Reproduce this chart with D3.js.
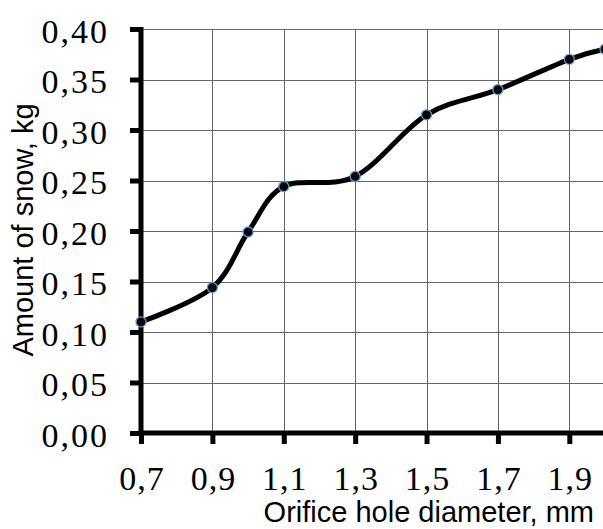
<!DOCTYPE html>
<html>
<head>
<meta charset="utf-8">
<script src="https://cdn.jsdelivr.net/npm/d3@7"></script>
<style>
  html, body { margin: 0; padding: 0; background: #fff; }
  svg { display: block; }
  .num { font-family: "Liberation Serif", "Times New Roman", serif; font-size: 34px; }
  .ttl { font-family: Arial, "Liberation Sans", sans-serif; font-size: 29px; }
</style>
</head>
<body>
<svg id="chart" width="603" height="529"></svg>
<script>
// data
var diameters = [0.7, 0.9, 1.0, 1.1, 1.3, 1.5, 1.7, 1.9, 2.0];
var snowKg = [0.110, 0.144, 0.199, 0.244, 0.254, 0.315, 0.340, 0.370, 0.380];
var xTicks = [0.7, 0.9, 1.1, 1.3, 1.5, 1.7, 1.9];
var yTicks = [0, 0.05, 0.10, 0.15, 0.20, 0.25, 0.30, 0.35, 0.40];

var svg = d3.select("#chart");

var x = d3.scaleLinear().domain([0.7, 2.0]).range([141, 605]);
var y = d3.scaleLinear().domain([0, 0.4]).range([433, 29]);

var fmt = function(d, n) { return d.toFixed(n).replace(".", ","); };

// grid
svg.append("g")
  .selectAll("line")
  .data(yTicks.slice(1))
  .join("line")
  .attr("x1", 141).attr("x2", 603)
  .attr("y1", d => Math.round(y(d)) + 0.5).attr("y2", d => Math.round(y(d)) + 0.5)
  .attr("stroke", "#666").attr("stroke-width", 1);

svg.append("g")
  .selectAll("line")
  .data(xTicks.slice(1))
  .join("line")
  .attr("x1", d => Math.round(x(d)) + 0.5).attr("x2", d => Math.round(x(d)) + 0.5)
  .attr("y1", 29).attr("y2", 433)
  .attr("stroke", "#666").attr("stroke-width", 1);

// axes
var yAxis = d3.axisLeft(y).tickValues(yTicks).tickSize(11).tickFormat(d => fmt(d, 2));
var gy = svg.append("g").attr("transform", "translate(141,0)").call(yAxis)
  .attr("font-family", null).attr("font-size", null);
gy.select(".domain").remove();
gy.selectAll(".tick line").attr("stroke", "#000").attr("stroke-width", 5);
gy.selectAll(".tick text")
  .attr("class", "num")
  .attr("x", -32).attr("dy", null).attr("y", 13)
  .attr("fill", "#000")
  .style("letter-spacing", "2px");

var xAxis = d3.axisBottom(x).tickValues(xTicks).tickSize(11).tickFormat(d => fmt(d, 1));
var gx = svg.append("g").attr("transform", "translate(0,433)").call(xAxis)
  .attr("font-family", null).attr("font-size", null);
gx.select(".domain").remove();
gx.selectAll(".tick line").attr("stroke", "#000").attr("stroke-width", 5);
gx.selectAll(".tick text")
  .attr("class", "num")
  .attr("x", 0.5).attr("y", 57).attr("dy", null)
  .attr("fill", "#000")
  .style("letter-spacing", "1px");

// axis lines on top of grid
svg.append("line").attr("x1", 141).attr("x2", 141).attr("y1", 27).attr("y2", 436)
  .attr("stroke", "#000").attr("stroke-width", 5);
svg.append("line").attr("x1", 138.5).attr("x2", 603).attr("y1", 433).attr("y2", 433)
  .attr("stroke", "#000").attr("stroke-width", 5);

// series
var pts = diameters.map((d, i) => [d, snowKg[i]]);
var line = d3.line()
  .x(p => x(p[0]))
  .y(p => y(p[1]))
  .curve(d3.curveCardinal.tension(0));

svg.append("path")
  .attr("d", line(pts))
  .attr("fill", "none")
  .attr("stroke", "#000")
  .attr("stroke-width", 5);

svg.append("g")
  .selectAll("circle")
  .data(pts)
  .join("circle")
  .attr("cx", p => x(p[0]))
  .attr("cy", p => y(p[1]))
  .attr("r", 5)
  .attr("fill", "#000")
  .attr("stroke", "#5b9bd5")
  .attr("stroke-width", 1.3);

// titles
svg.append("text")
  .attr("class", "ttl")
  .attr("transform", "translate(33,230) rotate(-90)")
  .attr("text-anchor", "middle")
  .text("Amount of snow, kg");

svg.append("text")
  .attr("class", "ttl")
  .attr("x", 594).attr("y", 522)
  .attr("text-anchor", "end")
  .text("Orifice hole diameter, mm");
</script>
</body>
</html>
